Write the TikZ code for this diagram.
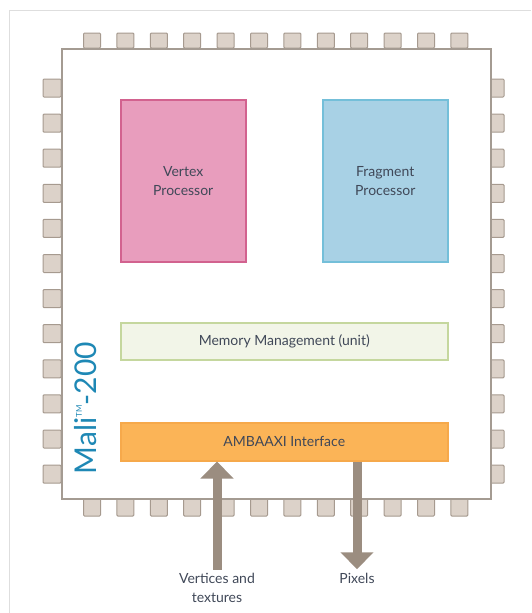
\documentclass[tikz,border=0pt]{standalone}
\usepackage{fontspec}
\setsansfont{Lato}
\usetikzlibrary{arrows.meta, calc}

\definecolor{framegray}{HTML}{DEDEDE}
\definecolor{chipgray}{HTML}{A49B92}
\definecolor{pinfill}{HTML}{DCD2C9}
\definecolor{pindraw}{HTML}{A69A8F}
\definecolor{pinkfill}{HTML}{E89DBD}
\definecolor{pinkdraw}{HTML}{D2628F}
\definecolor{bluefill}{HTML}{A8D1E5}
\definecolor{bluedraw}{HTML}{74BFD9}
\definecolor{memfill}{HTML}{F2F5E8}
\definecolor{memdraw}{HTML}{C5D79E}
\definecolor{ambafill}{HTML}{FBB457}
\definecolor{ambadraw}{HTML}{F6A94B}
\definecolor{maliblue}{HTML}{1E88B5}
\definecolor{arrowgray}{HTML}{9B8D80}
\definecolor{textgray}{HTML}{404858}

\begin{document}
\begin{tikzpicture}[x=1pt, y=-1pt,
font=\sffamily\fontsize{14}{19}\selectfont,
block/.style={draw, line width=1.5pt, inner sep=0pt, align=center, text=textgray, anchor=north west},
pin/.style={draw=pindraw, fill=pinfill, line width=1pt, rounded corners=1pt},
bigarrow/.style={arrowgray, line width=9pt, -{Triangle[width=32pt, length=17pt]}}]

\useasboundingbox (0,0) rectangle (531,613);
% page frame
\draw[framegray] (9,613) -- (9,10) -- (531,10);

% pins round the chip
\foreach \i in {0,...,11}{
	\pgfmathsetmacro\px{92+33.4*\i}
	\pgfmathsetmacro\py{88+35.1*\i}
	\draw[pin] (\px-8.5,33) rectangle (\px+8.5,48);
	\draw[pin] (\px-8.5,498) rectangle (\px+8.5,516);
	\draw[pin] (43,\py-9) rectangle (61,\py+9);
	\draw[pin] (490,\py-9) rectangle (504,\py+9);
}

% chip
\node[draw=chipgray, fill=white, line width=1.5pt, minimum width=429pt, minimum height=450pt, anchor=north west] (chip) at (61,48) {};

\node[block, draw=pinkdraw, fill=pinkfill, minimum width=125pt, minimum height=162pt] (vertex) at (120,99) {Vertex\\Processor};
\node[block, draw=bluedraw, fill=bluefill, minimum width=125pt, minimum height=162pt] (fragment) at (322,99) {Fragment\\Processor};
\node[block, draw=memdraw, fill=memfill, minimum width=327pt, minimum height=37pt] (mmu) at (120,322) {Memory Management (unit)};
\node[block, draw=ambadraw, fill=ambafill, minimum width=327pt, minimum height=38pt] (amba) at (120,422) {AMBAAXI Interface};

\node[text=maliblue, rotate=90, font=\sffamily\fontsize{30}{30}\selectfont] (mali) at (86,408) {Mali\raisebox{15pt}{\fontsize{8}{8}\selectfont TM}-200};

% in and out
\node[text=textgray, align=center] (vt) at (217,588) {Vertices and\\textures};
\node[text=textgray] (pix) at (357,578) {Pixels};
\draw[bigarrow] (vt.north) -- (vt.north |- amba.south);
\draw[bigarrow] (amba.south -| pix.north) -- (pix.north);

\end{tikzpicture}
\end{document}
